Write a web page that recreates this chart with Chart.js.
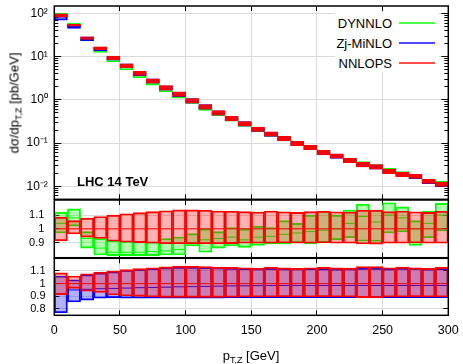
<!DOCTYPE html>
<html>
<head>
<meta charset="utf-8">
<script src="https://cdn.jsdelivr.net/npm/chart.js@4.4.1/dist/chart.umd.min.js"></script>
<style>
  body { margin: 0; background: #fff; }
  #wrap { position: relative; width: 463px; height: 364px; overflow: hidden;
          font-family: "Liberation Sans", Arial, sans-serif; color: #000; }
  #wrap canvas { position: absolute; left: 0; top: 0; }
  .txt { position: absolute; white-space: nowrap; font-size: 13px; line-height: 15px; }
  .txt sub { font-size: 9px; vertical-align: -3px; line-height: 0; }
  #ytitle { left: 14px; top: 103px; transform: translate(-50%, -50%) rotate(-90deg); }
  #xtitle { left: 251px; top: 348px; transform: translateX(-50%); }
  #lhc { left: 77px; top: 174px; font-weight: bold; }
  #keybox { position: absolute; left: 335px; top: 12px; width: 104px; height: 60px; background: #fff; }
  .key { right: 71px; text-align: right; }
  .keyline { position: absolute; left: 399px; width: 36px; height: 2px; }
</style>
</head>
<body>
<div id="wrap">
  <canvas id="top" width="463" height="364"></canvas>
  <canvas id="mid" width="463" height="364"></canvas>
  <canvas id="low" width="463" height="364"></canvas>
  <div id="keybox"></div>
  <div class="txt key" style="top:16px">DYNNLO</div>
  <div class="keyline" style="top:22px;background:#4cff4c"></div>
  <div class="txt key" style="top:35.5px">Zj-MiNLO</div>
  <div class="keyline" style="top:41.5px;background:#4c4cff"></div>
  <div class="txt key" style="top:55.5px">NNLOPS</div>
  <div class="keyline" style="top:61.5px;background:#ff4c4c"></div>
  <div class="txt" id="lhc">LHC 14 TeV</div>
  <div class="txt" id="ytitle">dσ/dp<sub>T,Z</sub> [pb/GeV]</div>
  <div class="txt" id="xtitle">p<sub>T,Z</sub> [GeV]</div>
</div>
<script>
// 10 GeV bins from 0 to 300 GeV
const binWidth = 10;
const binCentres = [5, 15, 25, 35, 45, 55, 65, 75, 85, 95, 105, 115, 125, 135, 145,
                    155, 165, 175, 185, 195, 205, 215, 225, 235, 245, 255, 265, 275, 285, 295];

// NNLOPS central prediction, pb/GeV
const nnlops = [91, 53, 27, 15.5, 9.4, 6.2, 4.1, 2.75, 1.9, 1.35, 0.95, 0.69, 0.50, 0.37, 0.28,
                0.21, 0.161, 0.127, 0.098, 0.079, 0.060, 0.050, 0.0395, 0.0315, 0.028,
                0.022, 0.0188, 0.0169, 0.013, 0.0111];

// scale-variation bands, as ratios to the NNLOPS central value
const nnlopsLo = [0.913, 0.963, 0.94, 0.93, 0.91, 0.903, 0.90, 0.895, 0.892, 0.892, 0.892, 0.892, 0.892, 0.893, 0.895,
                  0.895, 0.895, 0.897, 0.895, 0.895, 0.897, 0.895, 0.895, 0.89, 0.889, 0.895, 0.895, 0.897, 0.895, 0.895];
const nnlopsHi = [1.085, 1.06, 1.078, 1.09, 1.10, 1.11, 1.118, 1.125, 1.132, 1.138, 1.138, 1.135, 1.13, 1.128, 1.125,
                  1.122, 1.13, 1.124, 1.12, 1.125, 1.128, 1.124, 1.122, 1.135, 1.135, 1.125, 1.13, 1.124, 1.12, 1.128];

const dynnloLo  = [0.97, 1.02, 0.86, 0.81, 0.805, 0.805, 0.805, 0.805, 0.81, 0.81, 0.875, 0.83, 0.86, 0.875, 0.865,
                   0.88, 0.89, 0.89, 0.90, 0.89, 0.90, 0.92, 0.935, 0.91, 0.908, 0.97, 0.977, 0.88, 0.935, 0.985];
const dynnloMid = [1.04, 1.08, 0.93, 0.86, 0.83, 0.83, 0.83, 0.835, 0.84, 0.85, 0.90, 0.92, 0.93, 0.94, 0.92,
                   0.94, 0.945, 0.96, 0.97, 0.98, 0.99, 1.0, 1.04, 1.09, 1.05, 1.10, 1.08, 1.0, 1.04, 1.10];
const dynnloHi  = [1.12, 1.145, 0.98, 0.93, 0.915, 0.91, 0.91, 0.905, 0.93, 0.94, 0.965, 1.0, 0.98, 1.01, 1.0,
                   1.02, 1.01, 1.06, 1.04, 1.10, 1.13, 1.10, 1.137, 1.18, 1.137, 1.19, 1.16, 1.06, 1.13, 1.185];

const minloLo  = [0.77, 0.855, 0.87, 0.885, 0.888, 0.885, 0.885, 0.885, 0.885, 0.886, 0.886, 0.886, 0.886, 0.887, 0.887,
                  0.888, 0.889, 0.889, 0.889, 0.889, 0.889, 0.889, 0.889, 0.888, 0.888, 0.889, 0.889, 0.889, 0.889, 0.889];
const minloMid = [0.92, 0.95, 0.955, 0.96, 0.962, 0.965, 0.968, 0.97, 0.972, 0.975, 0.976, 0.978, 0.98, 0.982, 0.983,
                  0.984, 0.985, 0.985, 0.985, 0.985, 0.985, 0.985, 0.985, 0.985, 0.985, 0.985, 0.985, 0.985, 0.985, 0.985];
const minloHi  = [1.06, 1.03, 1.07, 1.085, 1.095, 1.105, 1.112, 1.12, 1.125, 1.13, 1.13, 1.128, 1.125, 1.122, 1.12,
                  1.118, 1.12, 1.118, 1.118, 1.12, 1.118, 1.116, 1.118, 1.122, 1.122, 1.118, 1.122, 1.122, 1.116, 1.12];

// axis ticks
const xTicks = [0, 50, 100, 150, 200, 250, 300];
const decades = [0.01, 0.1, 1, 10, 100];
const decadeLabels = ['10⁻²', '10⁻¹', '10⁰', '10¹', '10²'];
const midTicks = [0.9, 1, 1.1];
const lowTicks = [0.8, 0.9, 1, 1.1];

const GREEN = '#00ff00', BLUE = '#0000ff', RED = '#ff0000';
const GREEN_FILL = 'rgba(0,255,0,0.3)', BLUE_FILL = 'rgba(0,0,255,0.3)', RED_FILL = 'rgba(255,0,0,0.3)';
const GRID = '#dadada';

Chart.defaults.font.family = '"Liberation Sans", Arial, sans-serif';
Chart.defaults.color = '#000';

const ones = nnlops.map(() => 1);

function bandData(lo, hi, norm) {
  return binCentres.map((x, i) => ({ x: x, y: [lo[i] * norm[i], hi[i] * norm[i]] }));
}

// one flat segment per bin, broken by a null point
function stepData(mid, norm) {
  const pts = [];
  binCentres.forEach((x, i) => {
    const y = mid[i] * norm[i];
    pts.push({ x: x - binWidth / 2, y: y }, { x: x + binWidth / 2, y: y }, { x: x + binWidth / 2, y: null });
  });
  return pts;
}

function band(label, data, color, fill, order, width) {
  return { type: 'bar', label, data, backgroundColor: fill, borderColor: color, borderWidth: width,
           borderSkipped: false, grouped: false, barPercentage: 1, categoryPercentage: 1, order };
}

function centre(label, data, color, order) {
  return { type: 'line', label, data, borderColor: color, borderWidth: 1, pointRadius: 0,
           fill: false, spanGaps: false, order };
}

function sizeTo(w, h) {
  return s => {
    if (w !== null) s.width = w;
    if (h !== null) s.height = h;
    s.paddingLeft = s.paddingRight = s.paddingTop = s.paddingBottom = 0;
  };
}

function setTicks(values) {
  return s => { s.ticks = values.map(v => ({ value: v })); };
}

// labels are clipped to the axis box, so the labelled x axis keeps its height
function xAxes(labels) {
  return {
    x: {
      type: 'linear', position: 'bottom', min: 0, max: 300, offset: false, bounds: 'data',
      afterBuildTicks: setTicks(xTicks), afterFit: sizeTo(null, labels ? 48.7 : 0),
      ticks: { display: labels, padding: 13, font: { size: 12.5 }, callback: v => String(v) },
      grid: { offset: false, color: GRID, tickColor: '#000', tickLength: -5 },
      border: { display: false }
    },
    xTop: {
      type: 'linear', axis: 'x', position: 'top', min: 0, max: 300, offset: false, bounds: 'data',
      afterBuildTicks: setTicks(xTicks), afterFit: sizeTo(null, 0),
      ticks: { display: false },
      grid: { offset: false, drawOnChartArea: false, tickColor: '#000', tickLength: -5 },
      border: { display: false }
    }
  };
}

function yAxis(type, min, max, ticks, pos, opts) {
  return Object.assign({
    type: type, position: pos, min: min, max: max, bounds: 'data',
    afterBuildTicks: setTicks(ticks), afterFit: sizeTo(pos === 'left' && !opts.minor ? 54.3 : 0, null),
    ticks: { display: false },
    grid: { drawOnChartArea: false, tickColor: '#000', tickLength: -5 },
    border: { display: false }
  }, opts.extra || {});
}

const frame = {
  id: 'frame',
  afterDatasetsDraw(chart) {
    const { ctx, chartArea: a } = chart;
    ctx.save();
    ctx.strokeStyle = '#000';
    ctx.lineWidth = 1.5;
    ctx.strokeRect(a.left, a.top, a.right - a.left, a.bottom - a.top);
    ctx.restore();
  }
};

function panel(id, padding, yScales, datasets, xLabels) {
  return new Chart(document.getElementById(id), {
    type: 'bar',
    data: { datasets },
    options: {
      responsive: false, animation: false, events: [],
      layout: { padding },
      plugins: { legend: { display: false }, tooltip: { enabled: false } },
      scales: Object.assign(xAxes(xLabels), yScales)
    },
    plugins: [frame]
  });
}

// top panel: absolute distributions on a log scale
const yMin = 0.005, yMax = 150;
const minorTicks = [0.001].concat(decades)
  .flatMap(d => [2, 3, 4, 5, 6, 7, 8, 9].map(m => m * d))
  .filter(v => v >= yMin && v <= yMax);

panel('top', { left: 0, right: 14.7, top: 6, bottom: 164.7 }, {
  y: yAxis('logarithmic', yMin, yMax, decades, 'left', { extra: {
    ticks: { display: true, padding: 13.5, font: { size: 12 }, callback: (v, i) => decadeLabels[i] },
    grid: { color: GRID, tickColor: '#000', tickLength: -7 }
  } }),
  yMinor: yAxis('logarithmic', yMin, yMax, minorTicks, 'left', { minor: true, extra: { weight: -1,
    grid: { drawOnChartArea: false, tickColor: '#000', tickLength: -4 } } }),
  yR: yAxis('logarithmic', yMin, yMax, decades, 'right', { extra: {
    grid: { drawOnChartArea: false, tickColor: '#000', tickLength: -7 } } }),
  yRMinor: yAxis('logarithmic', yMin, yMax, minorTicks, 'right', { extra: { weight: -1,
    grid: { drawOnChartArea: false, tickColor: '#000', tickLength: -4 } } })
}, [
  centre('NNLOPS', stepData(ones, nnlops), RED, 0),
  band('NNLOPS', bandData(nnlopsLo, nnlopsHi, nnlops), RED, RED_FILL, 1, 1.5),
  centre('Zj-MiNLO', stepData(minloMid, nnlops), BLUE, 2),
  band('Zj-MiNLO', bandData(minloLo, minloHi, nnlops), BLUE, BLUE_FILL, 3, 1.5),
  centre('DYNNLO', stepData(dynnloMid, nnlops), GREEN, 4),
  band('DYNNLO', bandData(dynnloLo, dynnloHi, nnlops), GREEN, GREEN_FILL, 5, 1.5)
], false);

// ratio panels, normalised to NNLOPS
function ratioScales(min, max, ticks, pad) {
  return {
    y: yAxis('linear', min, max, ticks, 'left', { extra: {
      ticks: { display: true, padding: pad, font: { size: 11 }, callback: v => String(v) },
      grid: { color: GRID, tickColor: '#000', tickLength: -5 }
    } }),
    yR: yAxis('linear', min, max, ticks, 'right', {})
  };
}

panel('mid', { left: 0, right: 14.7, top: 200, bottom: 106.3 }, ratioScales(0.79, 1.21, midTicks, 15), [
  centre('NNLOPS', stepData(ones, ones), RED, 0),
  band('NNLOPS', bandData(nnlopsLo, nnlopsHi, ones), RED, RED_FILL, 1, 1.2),
  centre('DYNNLO', stepData(dynnloMid, ones), GREEN, 4),
  band('DYNNLO', bandData(dynnloLo, dynnloHi, ones), GREEN, GREEN_FILL, 5, 1.2)
], false);

panel('low', { left: 0, right: 14.7, top: 258.3, bottom: 0 }, ratioScales(0.75, 1.2, lowTicks, 13.8), [
  centre('NNLOPS', stepData(ones, ones), RED, 0),
  band('NNLOPS', bandData(nnlopsLo, nnlopsHi, ones), RED, RED_FILL, 1, 1.2),
  centre('Zj-MiNLO', stepData(minloMid, ones), BLUE, 2),
  band('Zj-MiNLO', bandData(minloLo, minloHi, ones), BLUE, BLUE_FILL, 3, 1.2)
], true);
</script>
</body>
</html>
